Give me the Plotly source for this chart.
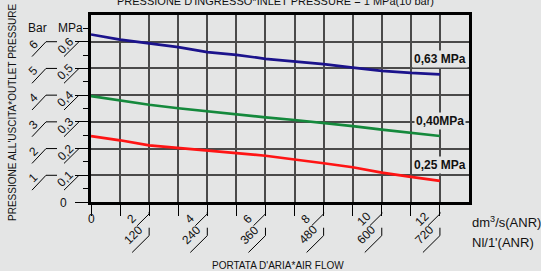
import plotly.graph_objects as go

# ---------------- data ----------------
flow_dm3s = [0, 1, 2, 3, 4, 5, 6, 7, 8, 9, 10, 11, 12]
p_063 = [0.627, 0.608, 0.594, 0.580, 0.561, 0.551, 0.536, 0.527, 0.516, 0.503, 0.491, 0.483, 0.478]
p_040 = [0.396, 0.380, 0.364, 0.351, 0.339, 0.328, 0.317, 0.307, 0.296, 0.284, 0.271, 0.259, 0.247]
p_025 = [0.247, 0.231, 0.212, 0.203, 0.192, 0.183, 0.173, 0.160, 0.145, 0.130, 0.110, 0.094, 0.079]

series_names = ["0,63 MPa", "0,40MPa", "0,25 MPa"]
series_colors = ["#1b138c", "#14893c", "#ff1414"]
label_y = [0.535, 0.302, 0.139]

mpa_ticks = [0.1, 0.2, 0.3, 0.4, 0.5, 0.6]
mpa_labels = ["0,1", "0,2", "0,3", "0,4", "0,5", "0,6"]
bar_labels = ["1", "2", "3", "4", "5", "6"]
x_major = [2, 4, 6, 8, 10, 12]
x_dm3_labels = ["2", "4", "6", "8", "10", "12"]
x_nl_labels = ["120", "240", "360", "480", "600", "720"]

title_top = "PRESSIONE D'INGRESSO*INLET PRESSURE = 1 MPa(10 bar)"
title_left = "PRESSIONE ALL'USCITA*OUTLET PRESSURE"
title_bottom = "PORTATA D'ARIA*AIR FLOW"

# ---------------- layout geometry ----------------
W_FIG, H_FIG = 541, 271
M_L, M_R, M_T, M_B = 91, 72, 13, 69
W = W_FIG - M_L - M_R
H = H_FIG - M_T - M_B
X_RANGE = [0, 13]
Y_RANGE = [0, 0.7]
BG = "#e4e5e5"
FONT = "Liberation Sans, Arial, sans-serif"
TXT = dict(size=12, color="#111", family=FONT)


def xp(v):
    return (v - X_RANGE[0]) / (X_RANGE[1] - X_RANGE[0])


def yp(v):
    return (v - Y_RANGE[0]) / (Y_RANGE[1] - Y_RANGE[0])


def dx(px):
    return px / W


def dy(px):  # positive = downwards in pixels
    return -px / H


fig = go.Figure()
for name, ys, col in zip(series_names, [p_063, p_040, p_025], series_colors):
    fig.add_trace(go.Scatter(x=flow_dm3s, y=ys, mode="lines", name=name,
                             line=dict(color=col, width=2.7), showlegend=False,
                             hoverinfo="skip"))

annotations = []
shapes = []

# series labels at right
for name, yv in zip(series_names, label_y):
    annotations.append(dict(x=12, y=yv, xref="x", yref="y", text="<b>%s</b>" % name,
                            showarrow=False, font=TXT,
                            bgcolor=BG, xanchor="center", yanchor="middle", borderpad=1))

# y-axis labels (MPa and Bar columns)
line_kw = dict(type="line", xref="paper", yref="paper", line=dict(color="black", width=1))
for v, ml, bl in zip(mpa_ticks, mpa_labels, bar_labels):
    y0 = yp(v)
    x0 = xp(0)
    shapes.append(dict(**line_kw, x0=x0 + dx(-12), y0=y0, x1=x0 + dx(-27), y1=y0 + dy(15)))
    annotations.append(dict(x=x0 + dx(-26), y=y0 + dy(4), xref="paper", yref="paper",
                            text=ml, textangle=-45, showarrow=False, font=TXT,
                            xanchor="center", yanchor="middle"))
    shapes.append(dict(**line_kw, x0=x0 + dx(-45), y0=y0, x1=x0 + dx(-34), y1=y0))
    shapes.append(dict(**line_kw, x0=x0 + dx(-45), y0=y0, x1=x0 + dx(-59), y1=y0 + dy(15)))
    annotations.append(dict(x=x0 + dx(-58), y=y0 + dy(3), xref="paper", yref="paper",
                            text=bl, textangle=-45, showarrow=False, font=TXT,
                            xanchor="center", yanchor="middle"))

annotations.append(dict(x=xp(0) + dx(-28), y=yp(0) + dy(1), xref="paper", yref="paper",
                        text="0", showarrow=False, font=TXT,
                        xanchor="center", yanchor="middle"))
annotations.append(dict(x=xp(0) + dx(-54), y=yp(0.651), xref="paper", yref="paper",
                        text="Bar", showarrow=False, font=TXT,
                        xanchor="center", yanchor="middle"))
annotations.append(dict(x=xp(0) + dx(-21), y=yp(0.651), xref="paper", yref="paper",
                        text="MPa", showarrow=False, font=TXT,
                        xanchor="center", yanchor="middle"))

# x-axis labels
annotations.append(dict(x=xp(0), y=yp(0) + dy(17), xref="paper", yref="paper",
                        text="0", showarrow=False, font=TXT,
                        xanchor="center", yanchor="middle"))
for v, l1, l2 in zip(x_major, x_dm3_labels, x_nl_labels):
    x0 = xp(v)
    yb = yp(0)
    shapes.append(dict(**line_kw, x0=x0, y0=yb + dy(10), x1=x0, y1=yb + dy(12)))
    shapes.append(dict(**line_kw, x0=x0, y0=yb + dy(12), x1=x0 + dx(-12), y1=yb + dy(24)))
    annotations.append(dict(x=x0 + dx(-18), y=yb + dy(17), xref="paper", yref="paper",
                            text=l1, textangle=-45, showarrow=False, font=TXT,
                            xanchor="center", yanchor="middle"))
    shapes.append(dict(**line_kw, x0=x0, y0=yb + dy(26), x1=x0, y1=yb + dy(34)))
    shapes.append(dict(**line_kw, x0=x0, y0=yb + dy(34), x1=x0 + dx(-17), y1=yb + dy(51)))
    annotations.append(dict(x=x0 + dx(-16), y=yb + dy(33), xref="paper", yref="paper",
                            text=l2, textangle=-45, showarrow=False, font=TXT,
                            xanchor="center", yanchor="middle"))

annotations.append(dict(x=1 + dx(1), y=yp(0) + dy(20), xref="paper", yref="paper",
                        text="dm<sup>3</sup>/s(ANR)", showarrow=False,
                        font=dict(size=13, color="#111", family=FONT),
                        xanchor="left", yanchor="middle"))
annotations.append(dict(x=1 + dx(1), y=yp(0) + dy(41), xref="paper", yref="paper",
                        text="Nl/1'(ANR)", showarrow=False,
                        font=dict(size=13, color="#111", family=FONT),
                        xanchor="left", yanchor="middle"))

annotations.append(dict(x=xp(0) + dx(184), y=1 + dy(-14), xref="paper", yref="paper",
                        text=title_top, showarrow=False,
                        font=dict(size=11, color="#111", family=FONT),
                        xanchor="center", yanchor="middle"))
annotations.append(dict(x=xp(0) + dx(-78), y=yp(0) + dy(-90), xref="paper", yref="paper",
                        text=title_left, textangle=-90, showarrow=False,
                        font=dict(size=10, color="#111", family=FONT),
                        xanchor="center", yanchor="middle"))
annotations.append(dict(x=xp(0) + dx(187), y=yp(0) + dy(64), xref="paper", yref="paper",
                        text=title_bottom, showarrow=False,
                        font=dict(size=10, color="#111", family=FONT),
                        xanchor="center", yanchor="middle"))

fig.update_layout(
    width=W_FIG, height=H_FIG,
    margin=dict(l=M_L, r=M_R, t=M_T, b=M_B, pad=0),
    paper_bgcolor=BG, plot_bgcolor=BG,
    font=dict(family=FONT, color="#111"),
    annotations=annotations, shapes=shapes,
    xaxis=dict(range=X_RANGE, tickvals=list(range(0, 13)), showticklabels=False,
               ticks="outside", ticklen=11, tickwidth=1, tickcolor="black",
               showgrid=True, gridcolor="#4a4a4a", gridwidth=1.5, zeroline=False,
               showline=True, linecolor="black", linewidth=3, mirror=True, fixedrange=True),
    yaxis=dict(range=Y_RANGE, tickvals=[0] + mpa_ticks, showticklabels=False,
               ticks="outside", ticklen=13, tickwidth=1, tickcolor="black",
               minor=dict(tickvals=[0.05, 0.15, 0.25, 0.35, 0.45, 0.55, 0.65],
                          ticks="outside", ticklen=5, tickwidth=1, tickcolor="black",
                          showgrid=False),
               showgrid=True, gridcolor="#4a4a4a", gridwidth=1.5, zeroline=False,
               showline=True, linecolor="black", linewidth=3, mirror=True, fixedrange=True),
)

fig.write_html("out.html", config=dict(displayModeBar=False),
               post_script="document.body.style.margin='0';document.body.style.overflow='hidden';")
